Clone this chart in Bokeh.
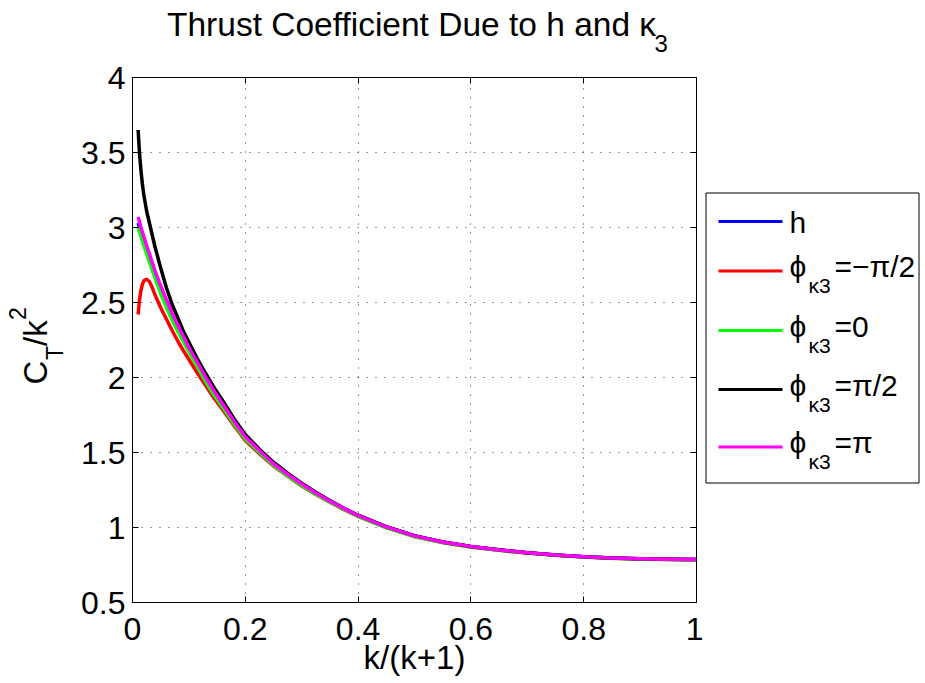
import math
from bokeh.plotting import figure
from bokeh.layouts import row, column
from bokeh.models import Range1d, FixedTicker, LinearAxis, CustomJSTickFormatter
from bokeh.core.properties import value
from bokeh.embed import file_html
from bokeh.resources import INLINE

# ---------------- data ----------------
x_vals = [0.01, 0.0125, 0.015, 0.0175, 0.02, 0.025, 0.03, 0.035, 0.04, 0.05, 0.06,
          0.07, 0.08, 0.09, 0.10, 0.115, 0.13, 0.145, 0.16, 0.18, 0.20, 0.225, 0.25,
          0.275, 0.30, 0.325, 0.35, 0.375, 0.40, 0.45, 0.50, 0.55, 0.60, 0.65, 0.70,
          0.75, 0.80, 0.85, 0.90, 0.95, 1.00]
h_vals = [3.03, 3.00, 2.97, 2.94, 2.91, 2.855, 2.80, 2.745, 2.69, 2.59, 2.495, 2.41,
          2.33, 2.26, 2.19, 2.088, 1.988, 1.896, 1.814, 1.702, 1.60, 1.509, 1.423,
          1.352, 1.286, 1.227, 1.175, 1.124, 1.079, 1.004, 0.944, 0.903, 0.873, 0.85,
          0.832, 0.817, 0.805, 0.797, 0.791, 0.788, 0.786]
phi_m_pi2 = [2.42, 2.52, 2.58, 2.62, 2.645, 2.655, 2.64, 2.60, 2.55, 2.465, 2.39,
             2.315, 2.245, 2.18, 2.12, 2.03, 1.945, 1.86, 1.785, 1.68, 1.58, 1.492,
             1.41, 1.342, 1.277, 1.22, 1.168, 1.119, 1.074, 1.00, 0.94, 0.90, 0.87,
             0.848, 0.83, 0.815, 0.803, 0.795, 0.79, 0.787, 0.785]
phi_0 = [3.00, 2.97, 2.94, 2.91, 2.88, 2.825, 2.77, 2.715, 2.66, 2.56, 2.47, 2.385,
         2.31, 2.24, 2.17, 2.07, 1.97, 1.88, 1.80, 1.69, 1.59, 1.50, 1.415, 1.345,
         1.28, 1.222, 1.17, 1.12, 1.075, 1.00, 0.94, 0.90, 0.87, 0.848, 0.83, 0.815,
         0.803, 0.795, 0.79, 0.787, 0.785]
phi_pi2 = [3.65, 3.49, 3.38, 3.29, 3.22, 3.11, 3.03, 2.95, 2.87, 2.73, 2.60, 2.49,
           2.40, 2.31, 2.235, 2.125, 2.025, 1.93, 1.845, 1.725, 1.62, 1.522, 1.435,
           1.362, 1.296, 1.235, 1.18, 1.128, 1.082, 1.006, 0.946, 0.904, 0.874, 0.851,
           0.832, 0.817, 0.805, 0.797, 0.791, 0.788, 0.786]
phi_pi = [3.07, 3.035, 3.00, 2.97, 2.94, 2.88, 2.825, 2.767, 2.71, 2.61, 2.52, 2.43,
          2.35, 2.277, 2.20, 2.10, 2.00, 1.907, 1.823, 1.708, 1.605, 1.513, 1.425,
          1.355, 1.29, 1.23, 1.177, 1.126, 1.08, 1.004, 0.944, 0.903, 0.873, 0.85,
          0.832, 0.817, 0.805, 0.797, 0.791, 0.788, 0.786]

series = [h_vals, phi_m_pi2, phi_0, phi_pi2, phi_pi]
colors = ["#0000FF", "#FF0000", "#00FF00", "#000000", "#FF00FF"]
legend_main = ["h", "ϕ", "ϕ", "ϕ", "ϕ"]
legend_sub = ["", "κ3", "κ3", "κ3", "κ3"]
legend_rest = ["", "=−π/2", "=0", "=π/2", "=π"]

x_ticks = [0, 0.2, 0.4, 0.6, 0.8, 1]
x_tick_labels = ["0", "0.2", "0.4", "0.6", "0.8", "1"]
y_ticks = [0.5, 1, 1.5, 2, 2.5, 3, 3.5, 4]
y_tick_labels = ["0.5", "1", "1.5", "2", "2.5", "3", "3.5", "4"]

title_main = "Thrust Coefficient Due to h and κ"
title_sub = "3"
x_label = "k/(k+1)"
y_label_parts = ["C", "T", "/k", "2"]   # C_T / k^2

FONT = "Liberation Sans"
BL = 0.35   # anchor sits this fraction of the font size above the drawn baseline

# ---------------- page geometry (pixels of the 925 x 683 page) ----------------
PAGE_W, PAGE_H = 925, 683
TITLE_H = 58            # title strip height
YLAB_W = 70             # y-label strip width
LEG_X0 = 703            # legend strip left edge
FRAME_L, FRAME_R, FRAME_T, FRAME_B = 132, 696, 77, 602
row_h = PAGE_H - TITLE_H
B_TOP = FRAME_T - TITLE_H
B_BOT = PAGE_H - FRAME_B


def no_align(f):
    if "frame_align" in f.properties():
        f.frame_align = False
    return f


def strip(width, height, x0, x1, y0, y1, top=0, bottom=0):
    """Helper figure without axes; y runs downward (page pixels)."""
    f = figure(width=width, height=height, output_backend="svg", toolbar_location=None,
               x_range=Range1d(x0, x1), y_range=Range1d(y1, y0), title=None,
               x_axis_location=None, y_axis_location=None, min_border=0,
               min_border_left=0, min_border_right=0,
               min_border_top=top, min_border_bottom=bottom)
    f.outline_line_color = None
    f.xgrid.visible = False
    f.ygrid.visible = False
    f.background_fill_color = "white"
    f.border_fill_color = "white"
    return no_align(f)


def put_text(f, x, y, txt, fs, angle=0.0):
    """Place txt with its baseline at (x, y) (page pixels)."""
    if angle:
        x = x - BL * fs
    else:
        y = y - BL * fs
    f.text(x=[x], y=[y], text=[txt], text_font=value(FONT),
           text_font_size=value(f"{fs}px"), text_align="left",
           text_baseline="alphabetic", angle=angle, text_color="black")


# ---------------- title strip ----------------
tfig = strip(PAGE_W, TITLE_H, 0, PAGE_W, 0, TITLE_H)
put_text(tfig, 166.5, 36, title_main, 33.5)
put_text(tfig, 654, 51.5, title_sub, 24)

# ---------------- y-label strip (frame spans the plot's frame rows) ----------------
yfig = strip(YLAB_W, row_h, 0, YLAB_W, FRAME_T, FRAME_B, top=B_TOP, bottom=B_BOT)
ylab_style = [(33, 47, 384), (23, 63, 359.5), (33, 47, 345.5), (23, 25, 319.5)]
for txt, (fs, bx, sy) in zip(y_label_parts, ylab_style):
    put_text(yfig, bx, sy, txt, fs, angle=math.pi / 2)

# ---------------- main plot ----------------
main_w = LEG_X0 - YLAB_W
p = figure(width=main_w, height=row_h, output_backend="svg", toolbar_location=None,
           x_range=Range1d(0, 1), y_range=Range1d(0.5, 4), title=None,
           min_border_left=FRAME_L - YLAB_W, min_border_right=LEG_X0 - FRAME_R,
           min_border_top=B_TOP, min_border_bottom=B_BOT)
no_align(p)
p.background_fill_color = "white"
p.border_fill_color = "white"
p.outline_line_color = "black"

for ax, ticks, labels in ((p.xaxis[0], x_ticks, x_tick_labels),
                          (p.yaxis[0], y_ticks, y_tick_labels)):
    ax.ticker = FixedTicker(ticks=ticks)
    ax.major_label_overrides = {t: l for t, l in zip(ticks, labels)}
    ax.major_tick_in = 6
    ax.major_tick_out = 0
    ax.minor_tick_line_color = None
    ax.axis_line_color = "black"
    ax.major_tick_line_color = "black"
    ax.major_label_text_font = FONT
    ax.major_label_text_font_size = "32px"
    ax.major_label_text_color = "black"
p.xaxis.major_label_standoff = 15
p.yaxis.major_label_standoff = 7
p.xaxis.axis_label = x_label
p.xaxis.axis_label_text_font = FONT
p.xaxis.axis_label_text_font_size = "33px"
p.xaxis.axis_label_text_font_style = "normal"
p.xaxis.axis_label_text_color = "black"
p.xaxis.axis_label_standoff = -4

blank = CustomJSTickFormatter(code="return ''")
for place, ticks in (("above", x_ticks), ("right", y_ticks)):
    ax = LinearAxis(ticker=FixedTicker(ticks=ticks), formatter=blank,
                    major_tick_in=6, major_tick_out=0, minor_tick_line_color=None,
                    axis_line_color="black", major_tick_line_color="black",
                    major_label_standoff=0, major_label_text_font_size="0px")
    p.add_layout(ax, place)

p.xgrid.ticker = FixedTicker(ticks=x_ticks)
p.ygrid.ticker = FixedTicker(ticks=y_ticks)
for g in (p.xgrid[0], p.ygrid[0]):
    g.grid_line_color = "#333333"
    g.grid_line_dash = "1 8"
    g.grid_line_width = 1

for ys, c in zip(series, colors):
    p.line(x_vals, ys, line_color=c, line_width=3.5, line_join="round")

# ---------------- legend strip (frame spans the plot's frame rows) ----------------
lfig = strip(PAGE_W - LEG_X0, row_h, LEG_X0, PAGE_W, FRAME_T, FRAME_B,
             top=B_TOP, bottom=B_BOT)
lfig.quad(left=[705.5], right=[918.5], top=[192.5], bottom=[482.5],
          fill_color="white", line_color="black", line_width=1)
row_y = [221, 270.5, 330, 389, 446.5]
lfig.segment(x0=[718] * 5, x1=[782] * 5, y0=row_y, y1=row_y,
             line_color=colors, line_width=3)
for i in range(len(colors)):
    L = row_y[i]
    if legend_sub[i] == "":
        put_text(lfig, 789, L + 11, legend_main[i], 30)
    else:
        put_text(lfig, 789, L + 6, legend_main[i], 30)
        put_text(lfig, 808, L + 22, legend_sub[i], 21)
        put_text(lfig, 834, L + 6, legend_rest[i], 30)

layout = column(tfig, row(yfig, p, lfig))
open("out.html", "w").write(file_html(layout, INLINE))
